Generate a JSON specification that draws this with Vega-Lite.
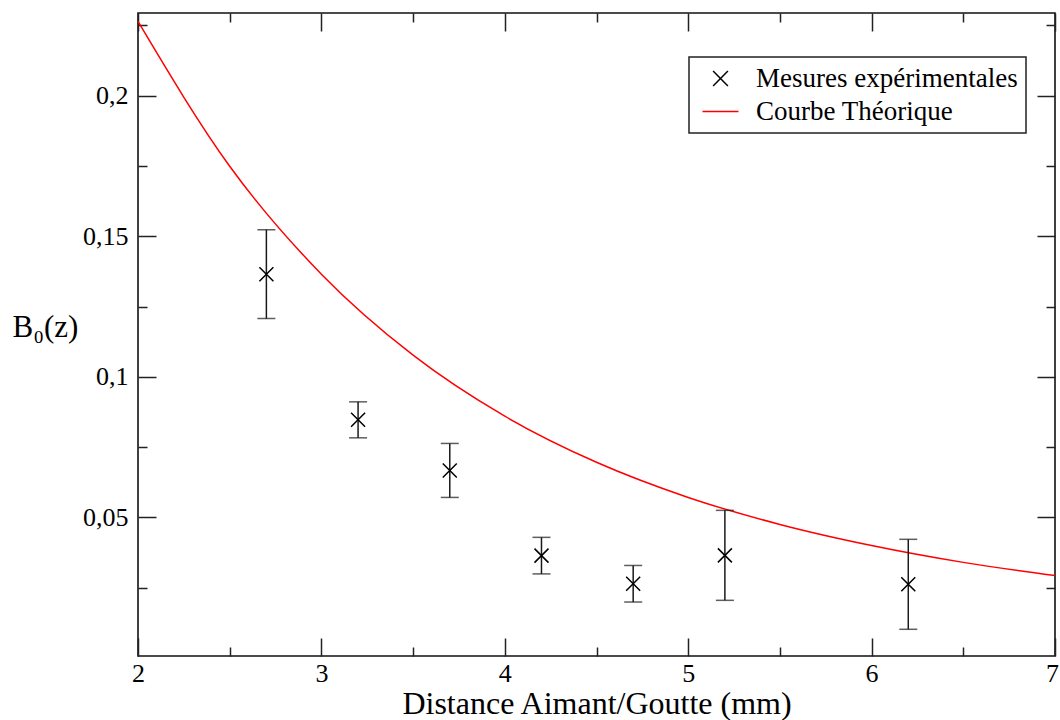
{
  "$schema": "https://vega.github.io/schema/vega-lite/v6.json",
  "width": 917,
  "height": 643,
  "autosize": "none",
  "padding": {"left": 138, "top": 13, "right": 5, "bottom": 64},
  "background": "white",
  "config": {
    "font": "Liberation Serif",
    "view": {"stroke": "#111", "strokeWidth": 1.6},
    "axis": {
      "domain": false,
      "grid": false,
      "tickColor": "#222",
      "tickWidth": 1.5,
      "labelFont": "Liberation Serif",
      "labelFontSize": 26,
      "labelColor": "black",
      "titleFont": "Liberation Serif",
      "titleFontWeight": "normal",
      "titleColor": "black"
    },
    "legend": {
      "orient": "none",
      "legendX": 551,
      "legendY": 44,
      "strokeColor": "#222",
      "fillColor": "white",
      "padding": 8,
      "labelFont": "Liberation Serif",
      "labelFontSize": 27,
      "labelColor": "black",
      "labelLimit": 500,
      "symbolSize": 400,
      "symbolOffset": 10,
      "labelOffset": 22,
      "rowPadding": 5,
      "symbolStrokeWidth": 1.5
    }
  },
  "datasets": {
    "curve": [
      {"z": 2.0, "B": 0.2264, "series": "Courbe Théorique"},
      {"z": 2.5, "B": 0.1749, "series": "Courbe Théorique"},
      {"z": 3.0, "B": 0.1365, "series": "Courbe Théorique"},
      {"z": 3.5, "B": 0.1077, "series": "Courbe Théorique"},
      {"z": 4.0, "B": 0.086, "series": "Courbe Théorique"},
      {"z": 4.5, "B": 0.0696, "series": "Courbe Théorique"},
      {"z": 5.0, "B": 0.0571, "series": "Courbe Théorique"},
      {"z": 5.5, "B": 0.0475, "series": "Courbe Théorique"},
      {"z": 6.0, "B": 0.04, "series": "Courbe Théorique"},
      {"z": 6.5, "B": 0.034, "series": "Courbe Théorique"},
      {"z": 7.0, "B": 0.0293, "series": "Courbe Théorique"}
    ],
    "meas": [
      {"z": 2.7, "B": 0.1365, "err": 0.0158, "series": "Mesures expérimentales"},
      {"z": 3.2, "B": 0.0847, "err": 0.0064, "series": "Mesures expérimentales"},
      {"z": 3.7, "B": 0.0667, "err": 0.0096, "series": "Mesures expérimentales"},
      {"z": 4.2, "B": 0.0364, "err": 0.0065, "series": "Mesures expérimentales"},
      {"z": 4.7, "B": 0.0264, "err": 0.0065, "series": "Mesures expérimentales"},
      {"z": 5.2, "B": 0.0365, "err": 0.016, "series": "Mesures expérimentales"},
      {"z": 6.2, "B": 0.0262, "err": 0.016, "series": "Mesures expérimentales"}
    ]
  },
  "layer": [
    {
      "data": {"name": "curve"},
      "mark": {"type": "line", "strokeWidth": 1.5, "interpolate": "monotone"},
      "encoding": {
        "x": {
          "field": "z", "type": "quantitative",
          "scale": {"domain": [2, 7], "nice": false, "zero": false},
          "axis": {
            "orient": "bottom",
            "values": [2, 2.5, 3, 3.5, 4, 4.5, 5, 5.5, 6, 6.5, 7],
            "labelExpr": "datum.value % 1 === 0 ? format(datum.value, 'd') : ''",
            "tickSize": {"condition": {"test": "datum.value % 1 === 0", "value": -18}, "value": -9},
            "labelOffset": {"condition": {"test": "datum.value === 7", "value": -3}, "value": 0},
            "labelPadding": 22,
            "labelFlush": false,
            "title": "Distance Aimant/Goutte (mm)",
            "titleFontSize": 32,
            "titleBaseline": "alphabetic",
            "titleY": 57
          }
        },
        "y": {
          "field": "B", "type": "quantitative",
          "scale": {"domain": [0.0007, 0.2294], "nice": false, "zero": false},
          "axis": {
            "orient": "left",
            "values": [0.025, 0.05, 0.075, 0.1, 0.125, 0.15, 0.175, 0.2, 0.225],
            "labelExpr": "abs(datum.value*20 - round(datum.value*20)) < 0.001 ? replace(format(datum.value, '~g'), '.', ',') : ''",
            "tickSize": {"condition": {"test": "abs(datum.value*20 - round(datum.value*20)) < 0.001", "value": -18}, "value": -9},
            "labelPadding": 28,
            "labelFlush": false,
            "title": "B₀(z)",
            "titleFontSize": 31,
            "titleAngle": 0,
            "titleAlign": "left",
            "titleBaseline": "middle",
            "titleX": -126,
            "titleY": 314
          }
        },
        "color": {
          "field": "series", "type": "nominal",
          "scale": {"domain": ["Mesures expérimentales", "Courbe Théorique"], "range": ["black", "red"]},
          "legend": {
            "title": null,
            "encode": {
              "legend": {"update": {"strokeWidth": {"value": 1.5}}},
              "symbols": {"update": {
                "shape": {"signal": "datum.value === 'Courbe Théorique' ? 'stroke' : 'M-1,-1L1,1M-1,1L1,-1'"},
                "size": {"signal": "datum.value === 'Courbe Théorique' ? 1296 : 220"},
                "strokeWidth": {"value": 1.5},
                "fill": {"value": "transparent"}
              }}
            }
          }
        }
      }
    },
    {
      "data": {"name": "meas"},
      "mark": {
        "type": "errorbar",
        "ticks": {"size": 18, "thickness": 1.5, "color": "#1a1a1a"},
        "rule": {"strokeWidth": 1.5, "color": "#1a1a1a"}
      },
      "encoding": {
        "x": {"field": "z", "type": "quantitative", "axis": null},
        "y": {"field": "B", "type": "quantitative", "axis": null},
        "yError": {"field": "err"}
      }
    },
    {
      "data": {"name": "meas"},
      "mark": {"type": "point", "shape": "M-1,-1L1,1M-1,1L1,-1", "filled": false, "size": 196, "strokeWidth": 1.5, "opacity": 1},
      "encoding": {
        "x": {
          "field": "z", "type": "quantitative",
          "axis": {
            "orient": "top",
            "values": [2, 2.5, 3, 3.5, 4, 4.5, 5, 5.5, 6, 6.5, 7],
            "labels": false,
            "tickSize": {"condition": {"test": "datum.value % 1 === 0", "value": -18}, "value": -9},
            "title": null
          }
        },
        "y": {
          "field": "B", "type": "quantitative",
          "axis": {
            "orient": "right",
            "values": [0.025, 0.05, 0.075, 0.1, 0.125, 0.15, 0.175, 0.2, 0.225],
            "labels": false,
            "tickSize": {"condition": {"test": "abs(datum.value*20 - round(datum.value*20)) < 0.001", "value": -18}, "value": -9},
            "title": null
          }
        },
        "color": {"field": "series", "type": "nominal"}
      }
    }
  ],
  "resolve": {"axis": {"x": "independent", "y": "independent"}}
}
